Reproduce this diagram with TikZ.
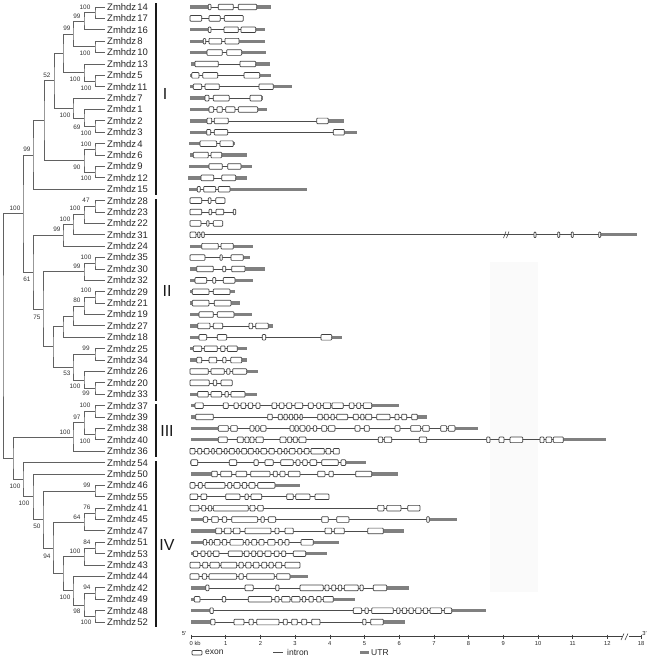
\documentclass[tikz,border=0pt]{standalone}
\usepackage{fontspec}
\setmainfont{Liberation Sans}
\usetikzlibrary{calc}
\newcommand\tnode[4]{%
  \path ($(#3)!.5!(#4)$) coordinate (tmp);
  \coordinate (#1) at (#2,0 |- tmp);
  \draw[tree] (#3) -| (#1) |- (#4);}
\newcommand\gene[6]{%
  \pgfmathsetmacro\gy{7+#1*11.39}
  \draw[utr] (#2,\gy) -- (#3,\gy);
  \draw[utr] (#4,\gy) -- (#5,\gy);
  \draw[intron] (#3,\gy) -- (#4,\gy);
  \foreach \a/\b in {#6} {\draw[exon] (\a,\gy-2.8) rectangle (\b,\gy+2.8);}}
\begin{document}
\begin{tikzpicture}[x=1pt,y=-1pt,
  tree/.style={draw=black!62,line width=0.9pt},
  leaf/.style={anchor=west,font=\fontsize{9.5}{10}\selectfont,text=black!85,inner sep=0pt},
  bs/.style={font=\fontsize{6.4}{7}\selectfont,text=black!80,inner sep=0pt},
  utr/.style={draw=black!50,line width=3.3pt},
  intron/.style={draw=black!70,line width=0.7pt},
  exon/.style={draw=black!75,fill=white,line width=0.7pt,rounded corners=0.8pt},
  grp/.style={font=\fontsize{16}{16}\selectfont,text=black!90,inner sep=0pt},
  grpbar/.style={draw=black!90,line width=1.1pt},
  ax/.style={font=\fontsize{5.8}{6}\selectfont,text=black!85,inner sep=0pt},
  lg/.style={font=\fontsize{8.5}{9}\selectfont,text=black!85,inner sep=0pt,anchor=west}]
\useasboundingbox (0,0) rectangle (647,659);
\fill[black!2] (490,262) rectangle (538,592);
% leaves
\foreach \r/\n in {0/14,1/17,2/16,3/8,4/10,5/13,6/5,7/11,8/7,9/1,10/2,11/3,12/4,13/6,14/9,15/12,16/15,
  17/28,18/23,19/22,20/31,21/24,22/35,23/30,24/32,25/29,26/21,27/19,28/27,29/18,30/25,31/34,32/26,33/20,34/33,
  35/37,36/39,37/38,38/40,39/36,40/54,41/50,42/46,43/55,44/41,45/45,46/47,47/51,48/53,49/43,50/44,51/42,52/49,53/48,54/52}
{\node[leaf] (L\n) at (107,{7+\r*11.39}) {Zmhdz\kern1.2pt\n};
 \coordinate (l\r) at (105,{7+\r*11.39});}
% tree
\tnode{a1}{95}{l0}{l1}
\tnode{a2}{84}{a1}{l2}
\tnode{a3}{95}{l3}{l4}
\tnode{a4}{73}{a2}{a3}
\tnode{a5}{95}{l6}{l7}
\tnode{a6}{84}{l5}{a5}
\tnode{a7}{63}{a4}{a6}
\tnode{b1}{95}{l10}{l11}
\tnode{b2}{84}{l9}{b1}
\tnode{b3}{73}{l8}{b2}
\tnode{b4}{54}{a7}{b3}
\tnode{c1}{95}{l12}{l13}
\tnode{c2}{95}{l14}{l15}
\tnode{c3}{84}{c1}{c2}
\tnode{d}{44}{b4}{c3}
\tnode{e}{33}{d}{l16}
\tnode{h1}{95}{l17}{l18}
\tnode{h2}{84}{h1}{l19}
\tnode{h3}{73}{h2}{l20}
\tnode{h4}{63}{h3}{l21}
\tnode{j1}{95}{l22}{l23}
\tnode{j2}{84}{j1}{l24}
\tnode{k1}{95}{l25}{l26}
\tnode{k2}{84}{k1}{l27}
\tnode{k3}{73}{k2}{l28}
\tnode{k4}{63}{k3}{l29}
\tnode{m1}{95}{l30}{l31}
\tnode{m2}{95}{l33}{l34}
\tnode{m3}{84}{l32}{m2}
\tnode{m4}{73}{m1}{m3}
\tnode{k5}{53}{k4}{m4}
\tnode{ii}{43}{j2}{k5}
\tnode{g}{33}{h4}{ii}
\tnode{f}{23}{e}{g}
\tnode{n1}{95}{l35}{l36}
\tnode{n3}{95}{l37}{l38}
\tnode{n2}{84}{n1}{n3}
\tnode{n4}{73}{n2}{l39}
\tnode{o1}{95}{l42}{l43}
\tnode{o2}{95}{l44}{l45}
\tnode{o3}{84}{o2}{l46}
\tnode{o4}{95}{l47}{l48}
\tnode{o5}{84}{o4}{l49}
\tnode{o6}{95}{l51}{l52}
\tnode{o8}{95}{l53}{l54}
\tnode{o7}{84}{o6}{o8}
\tnode{o9}{73}{l50}{o7}
\tnode{o10}{63}{o5}{o9}
\tnode{o11}{53}{o3}{o10}
\tnode{o12}{43}{o1}{o11}
\tnode{o13}{33}{l41}{o12}
\tnode{o14}{23}{l40}{o13}
\tnode{p}{13}{n4}{o14}
\tnode{root}{3}{f}{p}
% bootstrap values
\foreach \x/\y/\t [count=\i] in {85/7/100,77/16/99,67/28/99,85/53/100,47/75/52,75/79/100,86/88/100,65/115/100,
  77/127/69,86/133/100,86/144/100,77/167/90,86/178/100,27/149/99,15/208/100,86/200/47,75/208/100,65/219/100,
  57/229/99,86/257/100,77/266/99,27/279/61,86/290/100,77/300/80,37/317/75,86/348/99,67/373/53,75/386/100,
  86/393/99,85/405/100,77/417/97,65/432/100,85/441/100,15/486/100,87/485/99,24/503/100,87/507/76,77/517/64,
  37/526/50,87/542/84,75/551/100,47/556/94,87/587/94,65/597/100,77/611/98,86/622/100}
{\node[bs] (bs\i) at (\x,\y) {\t};}
% groups
\draw[grpbar] (156,3) -- (156,195);
\draw[grpbar] (156,199) -- (156,401);
\draw[grpbar] (156,404) -- (156,457);
\draw[grpbar] (156,461) -- (156,627);
\node[grp] (gI) at (165,94) {I};
\node[grp] (gII) at (167,291) {II};
\node[grp] (gIII) at (167,431) {III};
\node[grp] (gIV) at (167,545) {IV};
% genes
\begin{scope}[xshift=185pt,x=0.33333pt]
\gene{0}{15}{70}{215}{258}{70/78,100/145,160/215}
\gene{1}{15}{15}{175}{175}{15/50,72/106,118/175}
\gene{2}{15}{70}{212}{240}{70/78,117/160,168/212}
\gene{3}{15}{55}{162}{240}{55/62,72/110,120/162}
\gene{4}{15}{66}{170}{243}{66/112,125/170}
\gene{5}{18}{30}{212}{255}{30/100,165/212}
\gene{6}{15}{20}{224}{258}{20/42,53/98,177/224}
\gene{7}{15}{25}{265}{322}{25/50,60/103,222/265}
\gene{8}{15}{60}{230}{235}{60/72,85/133,195/230}
\gene{9}{15}{72}{218}{245}{72/86,96/112,122/150,160/218}
\gene{10}{15}{66}{430}{478}{66/80,88/130,395/430}
\gene{11}{15}{65}{478}{515}{65/77,88/128,445/478}
\gene{12}{12}{45}{145}{150}{45/95,105/145}
\gene{13}{15}{25}{110}{187}{25/70,78/110}
\gene{14}{12}{72}{168}{202}{72/112,128/168}
\gene{15}{10}{48}{152}{187}{48/86,110/152}
\gene{16}{12}{37}{135}{365}{37/46,56/92,100/135}
\gene{17}{15}{15}{120}{120}{15/50,70/78,92/120}
\gene{18}{15}{15}{152}{152}{15/50,72/80,93/116,145/152}
\gene{19}{15}{15}{113}{113}{15/48,65/72,85/113}
\gene{20}{15}{15}{1247}{1357}{15/33,38/45,50/58,1047/1053,1118/1124,1159/1165,1241/1247}
\gene{21}{15}{50}{145}{205}{50/100,108/145}
\gene{22}{15}{15}{175}{195}{15/60,105/112,138/175}
\gene{23}{15}{35}{180}{240}{35/85,113/122,140/180}
\gene{24}{15}{30}{150}{205}{30/65,83/92,115/150}
\gene{25}{15}{22}{135}{150}{22/72,85/135}
\gene{26}{15}{22}{138}{165}{22/72,88/138}
\gene{27}{15}{42}{147}{200}{42/85,97/147}
\gene{28}{15}{38}{250}{265}{38/75,85/113,192/203,212/250}
\gene{29}{15}{42}{440}{472}{42/65,97/125,232/242,408/440}
\gene{30}{15}{25}{157}{185}{25/50,58/97,107/120,127/157}
\gene{31}{15}{35}{170}{185}{35/50,72/95,113/123,137/170}
\gene{32}{15}{15}{185}{218}{15/70,78/118,125/135,143/185}
\gene{33}{15}{15}{142}{142}{15/73,85/95,108/142}
\gene{34}{15}{38}{180}{215}{38/70,78/110,120/130,138/180}
\gene{35}{18}{30}{560}{643}{30/55,115/130,147/160,168/182,190/203,213/225,261/275,283/297,305/320,330/353,370/385,395/407,415/437,441/475,493/507,515/527,535/560}
\gene{36}{18}{32}{697}{725}{32/85,248/262,280/292,297/307,313/323,328/338,345/352,398/412,418/430,438/448,455/488,505/520,527/537,542/560,575/615,630/642,650/665,680/697}
\gene{37}{18}{100}{810}{878}{100/130,137/157,195/207,212/222,227/243,315/327,330/340,345/360,365/375,385/395,410/425,430/450,510/525,538/553,630/645,677/707,713/733,767/785,790/810}
\gene{38}{18}{100}{1135}{1262}{100/127,157/175,180/192,195/207,213/235,285/303,308/320,325/337,342/363,580/593,598/620,703/725,905/915,942/957,975/1013,1065/1077,1083/1100,1105/1135}
\gene{39}{15}{15}{463}{463}{15/30,38/50,58/72,80/88,95/110,118/126,133/148,155/163,170/185,190/205,213/221,228/245,252/268,278/290,298/306,313/330,338/350,358/372,378/418,423/437,445/463}
\gene{40}{15}{18}{482}{543}{18/38,133/155,207/220,240/265,287/325,333/345,353/367,375/395,410/460,468/482}
\gene{41}{18}{80}{560}{640}{80/97,107/140,153/185,197/255,265/277,285/300,310/345,398/420,432/445,512/560}
\gene{42}{15}{15}{270}{345}{15/30,40/52,60/120,128/140,147/165,172/185,192/210,218/270}
\gene{43}{15}{15}{432}{432}{15/38,48/65,122/165,180/190,198/230,305/325,332/375,390/432}
\gene{44}{15}{15}{705}{705}{15/42,50/62,70/80,85/190,195/210,218/235,578/597,605/648,668/705}
\gene{45}{18}{55}{733}{815}{55/68,80/100,112/125,140/218,228/238,250/272,410/430,455/492,725/733}
\gene{46}{18}{92}{595}{658}{92/110,118/138,145/165,180/258,270/282,300/325,420/440,448/478,548/595}
\gene{47}{18}{55}{385}{462}{55/65,73/82,88/105,112/125,135/175,182/192,200/215,222/237,248/270,280/292,300/312,348/385}
\gene{48}{18}{25}{362}{427}{25/38,48/60,68/78,85/102,130/172,178/192,200/212,218/232,240/258,268/282,290/302,325/362}
\gene{49}{15}{15}{345}{345}{15/45,53/68,75/103,108/155,162/175,182/198,205/222,230/245,252/265,272/290,300/345}
\gene{50}{15}{15}{315}{368}{15/42,52/65,72/155,162/175,185/268,275/315}
\gene{51}{18}{62}{605}{672}{62/72,180/205,272/282,345/415,420/432,440/452,460/470,478/520,525/535,565/605}
\gene{52}{18}{28}{445}{510}{28/45,112/122,190/260,270/282,290/315,320/345,352/362,372/385,395/408,415/445}
\gene{53}{18}{75}{800}{903}{75/85,505/530,540/550,560/625,635/645,652/665,672/685,692/708,715/728,735/770,778/800}
\gene{54}{18}{77}{595}{660}{77/90,147/177,192/205,215/282,295/307,320/337,350/365,380/405,533/543,557/595}
\end{scope}
% break on Zmhdz31
\draw[black!70,line width=0.6pt] (503.5,238) -- (506,231.5) (506.5,238) -- (509,231.5);
% axis
\draw[black!75,line width=0.6pt] (191,636.7) -- (623,636.7) (629,636.7) -- (642,636.7);
\draw[black!75,line width=0.6pt] (621,640) -- (624,633.5) (625,640) -- (628,633.5);
\foreach \k in {0,...,12} {\draw[black!75,line width=0.5pt] ({191+34.7*\k},634.7) -- ({191+34.7*\k},638.7);}
\draw[black!75,line width=0.5pt] (641,634.7) -- (641,638.7);
\foreach \k in {1,...,12} {\node[ax] (t\k) at ({191+34.7*\k},643.5) {\k};}
\node[ax,anchor=west] (t0) at (189.5,643.5) {0 kb};
\node[ax] (t18) at (641,643.5) {18};
\node[ax] (p5) at (184,634) {5′};
\node[ax] (p3) at (644.5,633.5) {3′};
% legend
\draw[exon] (192,650.5) rectangle (202,655);
\node[lg] (lex) at (205,652.7) {exon};
\draw[intron] (273,652.7) -- (283,652.7);
\node[lg] (lin) at (287,652.7) {intron};
\draw[utr] (360,652.7) -- (369,652.7);
\node[lg] (lut) at (371,652.7) {UTR};
\end{tikzpicture}
\end{document}
